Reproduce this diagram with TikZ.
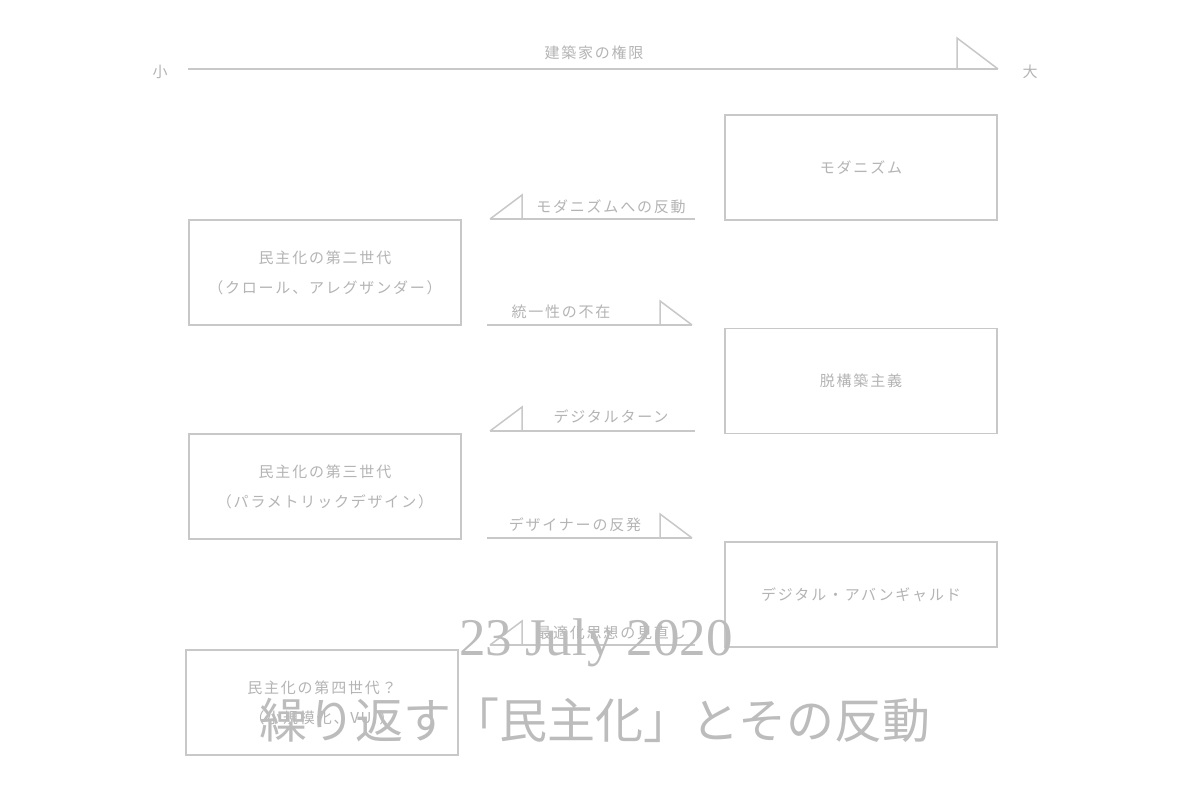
\documentclass[tikz,border=0pt]{standalone}
\usepackage{fontspec}
\setmainfont{Noto Sans CJK JP}
\newfontfamily\datefont{Liberation Serif}
\definecolor{linec}{HTML}{C8C8C8}
\definecolor{txtc}{HTML}{B4B4B4}
\definecolor{titlec}{HTML}{BCBCBC}
\newcommand\lblfont{\fontsize{15pt}{30pt}\selectfont\addfontfeature{LetterSpace=12}}
\begin{document}
\begin{tikzpicture}[x=1pt,y=-1pt,
  ln/.style={draw=linec,line width=1.5pt},
  box/.style={draw=linec,line width=1.5pt,minimum width=272pt,minimum height=105pt,inner sep=0pt,align=center,text=txtc,font=\lblfont},
  lab/.style={text=txtc,font=\lblfont,inner sep=0pt}]
\useasboundingbox (0,0) rectangle (1191,794);
\fill[white] (0,0) rectangle (1191,794);
% axis
\node[lab] (small) at (160,72) {小};
\node[lab] (big) at (1030,72) {大};
\node[lab] (axlab) at (594,53) {建築家の権限};
\coordinate (ax0) at (188,69);
\coordinate (ax1) at (998,69);
\draw[ln] (ax0) -- (ax1);
\draw[ln,line join=miter] (ax1) -- ++(-41,-31) -- ++(0,31);
% boxes
\node[box] (mod) at (861,167.5) {モダニズム};
\node[box] (dec) at (861,381) {脱構築主義};
\node[box] (dav) at (861,594.5) {デジタル・アバンギャルド};
\node[box] (g2) at (325,272.5) {民主化の第二世代\\（クロール、アレグザンダー）};
\node[box] (g3) at (325,486.5) {民主化の第三世代\\（パラメトリックデザイン）};
\node[box] (g4) at (322,702.5) {民主化の第四世代？\\（小規模化、VUI）};
% connectors
\coordinate (c1a) at (490,219); \coordinate (c1b) at (695,219);
\draw[ln] (c1a) -- (c1b);
\draw[ln] (c1a) -- ++(32,-24) -- ++(0,24);
\node[lab] (l1) at (611,207) {モダニズムへの反動};
\coordinate (c2a) at (487,325); \coordinate (c2b) at (692,325);
\draw[ln] (c2a) -- (c2b);
\draw[ln] (c2b) -- ++(-32,-24) -- ++(0,24);
\node[lab] (l2) at (561,312) {統一性の不在};
\coordinate (c3a) at (490,431); \coordinate (c3b) at (695,431);
\draw[ln] (c3a) -- (c3b);
\draw[ln] (c3a) -- ++(32,-24) -- ++(0,24);
\node[lab] (l3) at (611,417) {デジタルターン};
\coordinate (c4a) at (487,538); \coordinate (c4b) at (692,538);
\draw[ln] (c4a) -- (c4b);
\draw[ln] (c4b) -- ++(-32,-24) -- ++(0,24);
\node[lab] (l4) at (575,525) {デザイナーの反発};
\coordinate (c5a) at (490,645); \coordinate (c5b) at (695,645);
\draw[ln] (c5a) -- (c5b);
\draw[ln] (c5a) -- ++(32,-24) -- ++(0,24);
\node[lab] (l5) at (611,633) {最適化思想の見直し};
% title overlay
\node[text=titlec,font=\datefont\fontsize{53pt}{53pt}\selectfont,anchor=base,inner sep=0pt] (date) at (596,655) {23 July 2020};
\node[text=titlec,font=\fontsize{48pt}{48pt}\selectfont,inner sep=0pt] (title) at (595,720) {繰り返す「民主化」とその反動};
\end{tikzpicture}
\end{document}
